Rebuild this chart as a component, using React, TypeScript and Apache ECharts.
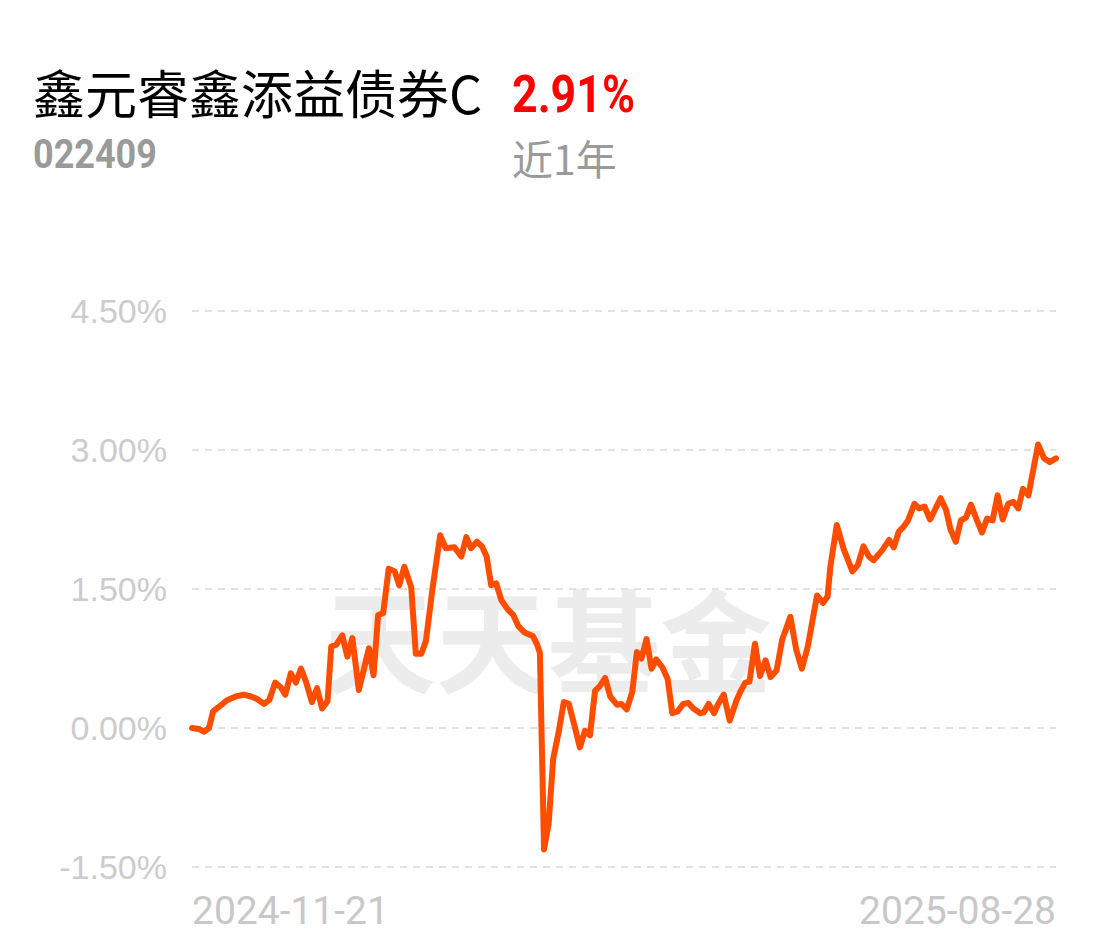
import { useEffect, useRef } from "react";
import * as echarts from "echarts";

const fundName = "鑫元睿鑫添益债券C";
const fundCode = "022409";
const periodReturn = "2.91%";
const periodLabel = "近1年";
const watermarkText = "天天基金";
const startDate = "2024-11-21";
const endDate = "2025-08-28";
const lastDayIndex = 188;

// trading-day index (0 = 2024-11-21, 188 = 2025-08-28)
const dayIndex = [
  0, 1.5, 2.6, 3.7, 4.6, 5.9, 7.6, 9.5, 11.3, 12.8,
  13.9, 15.7, 16.8, 18.1, 19.3, 20.3, 21.5, 22.6, 23.7, 24.8,
  26.1, 27.2, 28.3, 29.5, 30.3, 31.4, 32.7, 33.8, 34.9, 36.3,
  38.5, 39.5, 40.5, 41.6, 42.8, 44.1, 45.1, 46.2, 47.7, 48.7,
  49.9, 50.9, 52.3, 54.0, 55.2, 57.1, 58.6, 59.7, 60.7, 62.0,
  63.1, 64.1, 65.1, 66.2, 67.3, 68.7, 69.9, 71.0, 72.4, 74.2,
  75.1, 75.7, 76.6, 77.6, 78.6, 79.8, 80.9, 82.0, 83.3, 84.4,
  85.5, 86.6, 87.7, 88.7, 89.9, 91.0, 92.5, 93.4, 94.6, 95.8,
  96.8, 97.8, 98.9, 100.0, 101.0, 102.4, 103.5, 104.5, 105.7, 106.9,
  108.0, 109.1, 110.6, 111.4, 112.4, 113.6, 114.4, 115.7, 117.0, 118.5,
  119.3, 120.4, 121.3, 122.5, 123.6, 124.8, 125.9, 127.2, 128.4, 130.2,
  131.5, 132.7, 134.0, 136.0, 137.3, 138.3, 138.9, 140.3, 141.8, 143.7,
  144.9, 146.1, 147.3, 148.3, 150.2, 151.7, 152.7, 153.8, 154.8, 155.8,
  157.2, 158.2, 159.4, 160.6, 161.8, 162.9, 164.1, 165.0, 166.2, 167.3,
  168.4, 169.5, 170.8, 171.9, 173.0, 174.2, 175.3, 176.4, 177.6, 178.7,
  179.8, 180.8, 182.0, 184.1, 185.4, 186.6, 188,
];

// cumulative return, %
const returnPct = [
  0.0, -0.01, -0.04, 0.0, 0.18, 0.23, 0.3, 0.34, 0.36, 0.34,
  0.32, 0.26, 0.3, 0.49, 0.44, 0.36, 0.59, 0.49, 0.64, 0.5,
  0.28, 0.43, 0.21, 0.29, 0.88, 0.9, 1.0, 0.77, 0.97, 0.41,
  0.86, 0.57, 1.22, 1.24, 1.72, 1.69, 1.54, 1.74, 1.52, 0.8,
  0.8, 0.94, 1.49, 2.08, 1.94, 1.95, 1.85, 2.06, 1.94, 2.01,
  1.96, 1.85, 1.54, 1.56, 1.38, 1.28, 1.22, 1.1, 1.03, 0.99,
  0.9, 0.81, -1.31, -1.03, -0.33, -0.04, 0.28, 0.26, 0.01, -0.21,
  -0.03, -0.08, 0.4, 0.45, 0.54, 0.34, 0.25, 0.26, 0.2, 0.39,
  0.82, 0.75, 0.96, 0.64, 0.74, 0.65, 0.53, 0.16, 0.18, 0.26,
  0.27, 0.21, 0.16, 0.17, 0.26, 0.16, 0.25, 0.36, 0.08, 0.3,
  0.39, 0.49, 0.5, 0.91, 0.56, 0.73, 0.55, 0.62, 0.95, 1.2,
  0.84, 0.64, 0.88, 1.43, 1.35, 1.42, 1.74, 2.19, 1.93, 1.69,
  1.76, 1.96, 1.85, 1.81, 1.92, 2.03, 1.95, 2.12, 2.17, 2.24,
  2.42, 2.37, 2.39, 2.25, 2.37, 2.48, 2.35, 2.15, 2.01, 2.24,
  2.27, 2.41, 2.24, 2.11, 2.26, 2.24, 2.51, 2.25, 2.42, 2.44,
  2.37, 2.58, 2.51, 3.06, 2.91, 2.87, 2.91,
];

const yMin = -1.5;
const yMax = 4.5;
const yStep = 1.5;

export default function App() {
  const ref = useRef<HTMLDivElement>(null);

  useEffect(() => {
    document.body.style.margin = "0";
    const chart = echarts.init(ref.current!, null, { renderer: "svg" });
    const seriesData = dayIndex.map((d, i) => [d, returnPct[i]]);

    chart.setOption({
      animation: false,
      backgroundColor: "#ffffff",
      grid: { left: 192, right: 46, top: 311, bottom: 84 },
      graphic: [
        {
          type: "text",
          left: 548 - 224,
          top: 580,
          z: -10,
          silent: true,
          style: {
            text: watermarkText,
            font: 'bold 112px "Noto Sans CJK SC"',
            fill: "#ececec",
          },
        },
        {
          type: "text",
          x: 33,
          y: 91,
          style: {
            text: fundName,
            font: '52px "Noto Sans CJK SC"',
            fill: "#000000",
            verticalAlign: "middle",
          },
        },
        {
          type: "text",
          x: 512,
          y: 94,
          scaleX: 0.86,
          style: {
            text: periodReturn,
            font: 'bold 52px Roboto',
            fill: "#ff0000",
            verticalAlign: "middle",
          },
        },
        {
          type: "text",
          x: 33,
          y: 154,
          scaleX: 0.9,
          style: {
            text: fundCode,
            font: 'bold 40px Roboto',
            fill: "#9a9a9a",
            verticalAlign: "middle",
          },
        },
        {
          type: "text",
          x: 512,
          y: 157,
          style: {
            text: periodLabel,
            font: '41px "Noto Sans CJK SC"',
            fill: "#9a9a9a",
            verticalAlign: "middle",
          },
        },
      ],
      xAxis: {
        type: "value",
        min: 0,
        max: lastDayIndex,
        interval: lastDayIndex,
        axisLine: { show: false },
        axisTick: { show: false },
        splitLine: { show: false },
        axisLabel: {
          margin: 24,
          color: "#c8c8c8",
          fontFamily: "Roboto",
          fontSize: 39,
          alignMinLabel: "left",
          alignMaxLabel: "right",
          formatter: (v: number) => (v === 0 ? startDate : endDate),
        },
      },
      yAxis: {
        type: "value",
        min: yMin,
        max: yMax,
        interval: yStep,
        axisLine: { show: false },
        axisTick: { show: false },
        axisLabel: {
          margin: 25,
          color: "#cccccc",
          fontFamily: "Liberation Sans",
          fontSize: 34,
          formatter: (v: number) => v.toFixed(2) + "%",
        },
        splitLine: {
          show: true,
          lineStyle: { color: "#e2e2e2", width: 2, type: [7, 6] },
        },
      },
      series: [
        {
          type: "line",
          data: seriesData,
          showSymbol: false,
          symbol: "none",
          lineStyle: { color: "#ff4d00", width: 6, join: "round", cap: "round" },
          z: 5,
        },
      ],
    });

    return () => chart.dispose();
  }, []);

  return <div ref={ref} style={{ width: 1102, height: 951 }} />;
}
